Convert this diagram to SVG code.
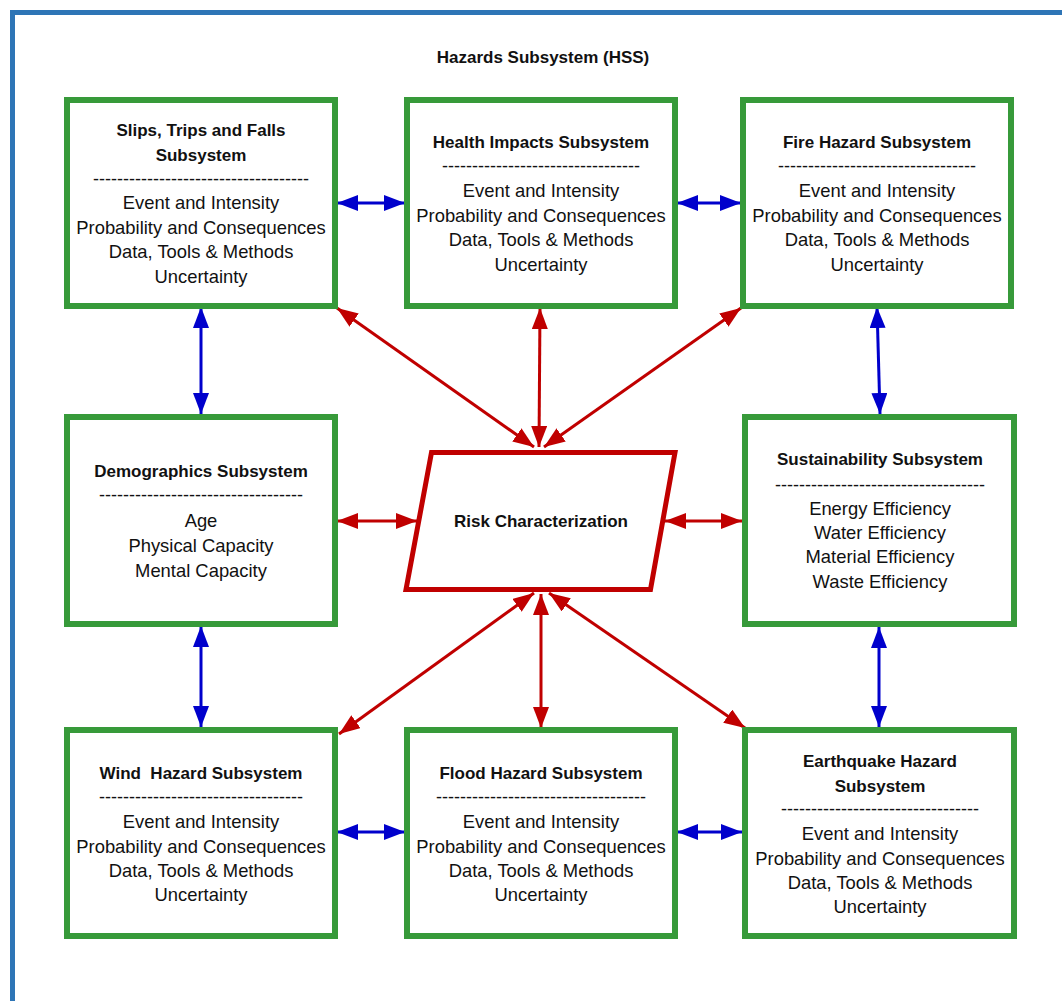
<svg xmlns="http://www.w3.org/2000/svg" width="1062" height="1001" viewBox="0 0 1062 1001">
  <style>
    .frame { fill: none; stroke: #2e75b6; stroke-width: 5; }
    .box { fill: #ffffff; stroke: #379a3a; stroke-width: 6; }
    .risk { fill: #ffffff; stroke: #c00000; stroke-width: 5; stroke-linejoin: miter; }
    text { font-family: "Liberation Sans", Arial, sans-serif; fill: #111111; text-anchor: middle; }
    .title { font-size: 17px; font-weight: bold; }
    .item { font-size: 18.4px; }
    .dash { font-size: 18px; }
    .blue { stroke: #0000cc; stroke-width: 3; fill: none; marker-start: url(#headBlue); marker-end: url(#headBlue); }
    .red { stroke: #c00000; stroke-width: 3; fill: none; marker-start: url(#headRed); marker-end: url(#headRed); }
  </style>
  <defs>
    <marker id="headBlue" markerUnits="userSpaceOnUse" markerWidth="22" markerHeight="16" refX="21" refY="8" orient="auto-start-reverse">
      <path d="M0,0 L21,8 L0,16 z" fill="#0000cc"/>
    </marker>
    <marker id="headRed" markerUnits="userSpaceOnUse" markerWidth="22" markerHeight="16" refX="21" refY="8" orient="auto-start-reverse">
      <path d="M0,0 L21,8 L0,16 z" fill="#c00000"/>
    </marker>
  </defs>

  <rect width="1062" height="1001" fill="#ffffff"/>
  <!-- outer frame, running off the right and bottom edges -->
  <rect class="frame" x="12.5" y="12.5" width="1100" height="1100"/>

  <text class="title" x="543" y="63">Hazards Subsystem (HSS)</text>

  <!-- connectors -->
  <g id="connectors">
    <line class="blue" x1="337" y1="203" x2="405" y2="203"/>
    <line class="blue" x1="677" y1="203" x2="741" y2="203"/>
    <line class="blue" x1="201" y1="307" x2="201" y2="414"/>
    <line class="blue" x1="877" y1="307" x2="880" y2="414"/>
    <line class="blue" x1="201" y1="626" x2="201" y2="727"/>
    <line class="blue" x1="879" y1="627" x2="879" y2="727"/>
    <line class="blue" x1="337" y1="832" x2="405" y2="832"/>
    <line class="blue" x1="677" y1="832" x2="742" y2="832"/>

    <line class="red" x1="337" y1="308" x2="534" y2="447"/>
    <line class="red" x1="540" y1="308" x2="539" y2="447"/>
    <line class="red" x1="741" y1="308" x2="544" y2="447"/>
    <line class="red" x1="337" y1="521" x2="417" y2="521"/>
    <line class="red" x1="665" y1="521" x2="742" y2="521"/>
    <line class="red" x1="534" y1="593" x2="339" y2="734"/>
    <line class="red" x1="541" y1="594" x2="541" y2="728"/>
    <line class="red" x1="549" y1="593" x2="745" y2="728"/>
  </g>

  <g id="slips">
    <rect class="box" x="67" y="100" width="268" height="206"/>
    <text class="title" x="201" y="136">Slips, Trips and Falls</text>
    <text class="title" x="201" y="161">Subsystem</text>
    <text class="dash" x="201" y="185">------------------------------------</text>
    <text class="item" x="201"><tspan x="201" y="209">Event and Intensity</tspan><tspan x="201" y="234">Probability and Consequences</tspan><tspan x="201" y="258">Data, Tools &amp; Methods</tspan><tspan x="201" y="283">Uncertainty</tspan></text>
  </g>

  <g id="health">
    <rect class="box" x="407" y="100" width="268" height="206"/>
    <text class="title" x="541" y="148">Health Impacts Subsystem</text>
    <text class="dash" x="541" y="172">---------------------------------</text>
    <text class="item" x="541"><tspan x="541" y="197">Event and Intensity</tspan><tspan x="541" y="222">Probability and Consequences</tspan><tspan x="541" y="246">Data, Tools &amp; Methods</tspan><tspan x="541" y="271">Uncertainty</tspan></text>
  </g>

  <g id="fire">
    <rect class="box" x="743" y="100" width="268" height="206"/>
    <text class="title" x="877" y="148">Fire Hazard Subsystem</text>
    <text class="dash" x="877" y="172">---------------------------------</text>
    <text class="item" x="877"><tspan x="877" y="197">Event and Intensity</tspan><tspan x="877" y="222">Probability and Consequences</tspan><tspan x="877" y="246">Data, Tools &amp; Methods</tspan><tspan x="877" y="271">Uncertainty</tspan></text>
  </g>

  <g id="demographics">
    <rect class="box" x="67" y="417" width="268" height="207"/>
    <text class="title" x="201" y="477">Demographics Subsystem</text>
    <text class="dash" x="201" y="501">----------------------------------</text>
    <text class="item" x="201"><tspan x="201" y="527">Age</tspan><tspan x="201" y="552">Physical Capacity</tspan><tspan x="201" y="577">Mental Capacity</tspan></text>
  </g>

  <g id="risk">
    <polygon class="risk" points="431.5,452.5 675,452.5 650.5,589.5 406,589.5"/>
    <text class="title" x="541" y="527">Risk Characterization</text>
  </g>

  <g id="sustainability">
    <rect class="box" x="745" y="417" width="269" height="207"/>
    <text class="title" x="880" y="465">Sustainability Subsystem</text>
    <text class="dash" x="880" y="491">-----------------------------------</text>
    <text class="item" x="880"><tspan x="880" y="515">Energy Efficiency</tspan><tspan x="880" y="539">Water Efficiency</tspan><tspan x="880" y="563">Material Efficiency</tspan><tspan x="880" y="588">Waste Efficiency</tspan></text>
  </g>

  <g id="wind">
    <rect class="box" x="67" y="730" width="268" height="206"/>
    <text class="title" x="201" y="779" xml:space="preserve">Wind  Hazard Subsystem</text>
    <text class="dash" x="201" y="803">----------------------------------</text>
    <text class="item" x="201"><tspan x="201" y="828">Event and Intensity</tspan><tspan x="201" y="853">Probability and Consequences</tspan><tspan x="201" y="877">Data, Tools &amp; Methods</tspan><tspan x="201" y="901">Uncertainty</tspan></text>
  </g>

  <g id="flood">
    <rect class="box" x="407" y="730" width="268" height="206"/>
    <text class="title" x="541" y="779">Flood Hazard Subsystem</text>
    <text class="dash" x="541" y="803">-----------------------------------</text>
    <text class="item" x="541"><tspan x="541" y="828">Event and Intensity</tspan><tspan x="541" y="853">Probability and Consequences</tspan><tspan x="541" y="877">Data, Tools &amp; Methods</tspan><tspan x="541" y="901">Uncertainty</tspan></text>
  </g>

  <g id="earthquake">
    <rect class="box" x="745" y="730" width="269" height="206"/>
    <text class="title" x="880" y="767">Earthquake Hazard</text>
    <text class="title" x="880" y="792">Subsystem</text>
    <text class="dash" x="880" y="815">---------------------------------</text>
    <text class="item" x="880"><tspan x="880" y="840">Event and Intensity</tspan><tspan x="880" y="865">Probability and Consequences</tspan><tspan x="880" y="889">Data, Tools &amp; Methods</tspan><tspan x="880" y="913">Uncertainty</tspan></text>
  </g>
</svg>
